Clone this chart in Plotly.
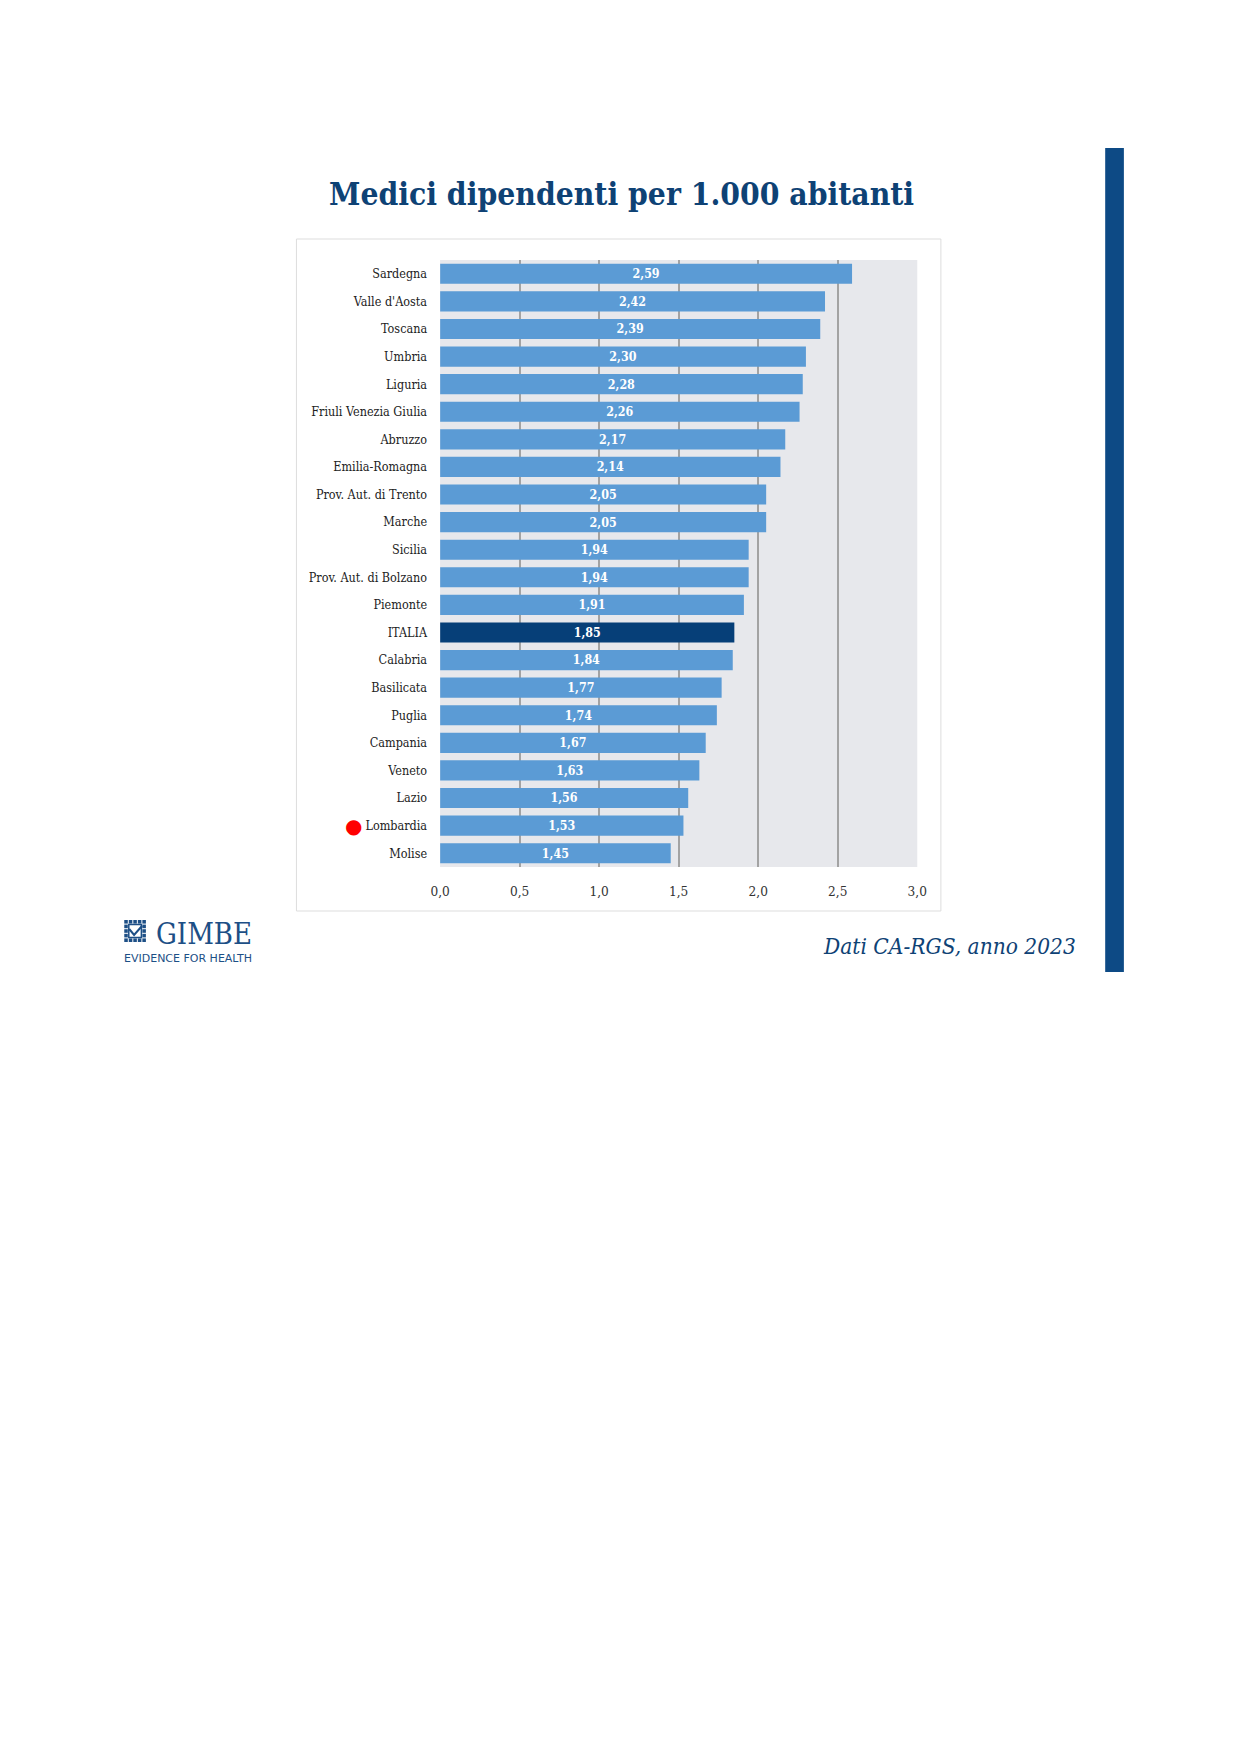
import plotly.graph_objects as go

W, H = 1241, 1755

regions = ["Sardegna", "Valle d'Aosta", "Toscana", "Umbria", "Liguria",
           "Friuli Venezia Giulia", "Abruzzo", "Emilia-Romagna",
           "Prov. Aut. di Trento", "Marche", "Sicilia", "Prov. Aut. di Bolzano",
           "Piemonte", "ITALIA", "Calabria", "Basilicata", "Puglia", "Campania",
           "Veneto", "Lazio", "Lombardia", "Molise"]
values = [2.59, 2.42, 2.39, 2.30, 2.28, 2.26, 2.17, 2.14, 2.05, 2.05, 1.94,
          1.94, 1.91, 1.85, 1.84, 1.77, 1.74, 1.67, 1.63, 1.56, 1.53, 1.45]
x_ticks = [0.0, 0.5, 1.0, 1.5, 2.0, 2.5, 3.0]

title_text = "Medici dipendenti per 1.000 abitanti"
source_text = "Dati CA-RGS, anno 2023"
highlight = "ITALIA"
marked = "Lombardia"

BAR = "#5B9BD5"
DARK = "#063F78"
NAVY = "#0E4275"
SERIF = "DejaVu Serif Condensed, Liberation Serif, serif"


def px(x):
    return x / W


def py(y):
    return 1 - y / H


colors = [DARK if r == highlight else BAR for r in regions]

fig = go.Figure(go.Bar(
    x=values, y=regions, orientation="h",
    marker=dict(color=colors, line=dict(width=0)),
    texttemplate="%{x:.2f}", textposition="inside", insidetextanchor="middle",
    textangle=0,
    textfont=dict(color="white", size=14, family=SERIF, weight="bold"),
    hoverinfo="skip",
))

fig.update_layout(
    width=W, height=H, margin=dict(l=0, r=0, t=0, b=0),
    paper_bgcolor="white", plot_bgcolor="#E7E8EC",
    separators=",.", showlegend=False, bargap=0.27,
    xaxis=dict(domain=[px(429), px(914)], range=[0, 3], tickvals=x_ticks,
               tickformat=".1f", showgrid=True, gridcolor="#A3A3A3",
               gridwidth=1.5, zeroline=False, showline=False, ticks="",
               ticklabelstandoff=14,
               tickfont=dict(size=13.5, color="#333333", family=SERIF)),
    yaxis=dict(domain=[py(859), py(252)], autorange="reversed",
               categoryorder="array", categoryarray=regions,
               showgrid=False, zeroline=False, showline=False, ticks="",
               ticklabelstandoff=12,
               tickfont=dict(size=12.5, color="#222222", family=SERIF)),
)

shapes = [
    # chart frame
    dict(type="rect", xref="paper", yref="paper", x0=px(283), x1=px(938),
         y0=py(903), y1=py(231), line=dict(color="#DDDDDD", width=1),
         fillcolor="rgba(0,0,0,0)", layer="below"),
    # right vertical band
    dict(type="rect", xref="paper", yref="paper", x0=px(1105), x1=px(1124),
         y0=py(964), y1=py(140), line=dict(width=0), fillcolor="#0D4A85"),
]

# logo icon: small grid of squares
gx0, gy0, cell = 108, 912, 4.6
for i in range(5):
    for j in range(5):
        if 1 <= i <= 3 and 1 <= j <= 3:
            continue
        shapes.append(dict(type="rect", xref="paper", yref="paper",
                           x0=px(gx0 + i * cell), x1=px(gx0 + i * cell + cell - 1),
                           y0=py(gy0 + j * cell + cell - 1), y1=py(gy0 + j * cell),
                           line=dict(width=0), fillcolor="#1D4F86"))
shapes.append(dict(type="rect", xref="paper", yref="paper",
                   x0=px(gx0 + cell), x1=px(gx0 + 4 * cell - 1),
                   y0=py(gy0 + 4 * cell - 1), y1=py(gy0 + cell),
                   line=dict(color="#1D4F86", width=1.5), fillcolor="white"))
shapes.append(dict(type="path", xref="paper", yref="paper",
                   path=(f"M {px(gx0 + 5)},{py(gy0 + 9)} L {px(gx0 + 10)},{py(gy0 + 15)} "
                         f"L {px(gx0 + 18)},{py(gy0 + 6)}"),
                   line=dict(color="#1D4F86", width=2)))
fig.update_layout(shapes=shapes)

annotations = [
    dict(text=f"<b>{title_text}</b>", xref="paper", yref="paper",
         x=px(613), y=py(185), xanchor="center", yanchor="middle",
         showarrow=False, font=dict(size=31.5, color=NAVY, family=SERIF)),
    dict(text=f"<i>{source_text}</i>", xref="paper", yref="paper",
         x=px(1077), y=py(938), xanchor="right", yanchor="middle",
         showarrow=False, font=dict(size=22.5, color=NAVY, family=SERIF)),
    dict(text="●", xref="paper", yref="y", x=px(341), y=marked,
         xanchor="center", yanchor="middle", showarrow=False,
         font=dict(size=20, color="#FF0000", family="DejaVu Sans")),
    dict(text="GIMBE", xref="paper", yref="paper", x=px(138), y=py(926),
         xanchor="left", yanchor="middle", showarrow=False,
         font=dict(size=29, color="#1D4F86", family=SERIF)),
    dict(text="EVIDENCE FOR HEALTH", xref="paper", yref="paper", x=px(173),
         y=py(951), xanchor="center", yanchor="middle", showarrow=False,
         font=dict(size=11, color="#1D4F86", family="DejaVu Sans")),
]
fig.update_layout(annotations=annotations)

fig.write_html("out.html")
